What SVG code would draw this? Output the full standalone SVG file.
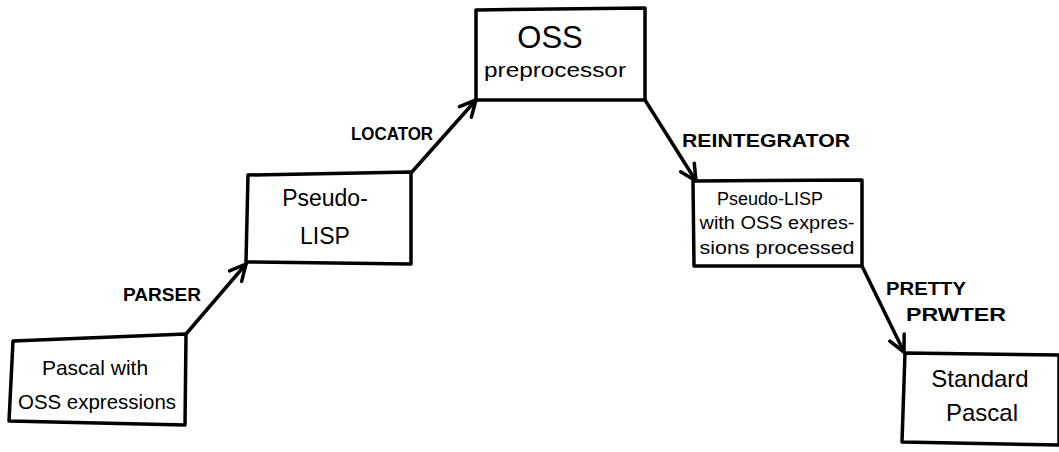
<svg xmlns="http://www.w3.org/2000/svg" width="1059" height="452" viewBox="0 0 1059 452">
<style>
.box{fill:#fff;stroke:#000;stroke-width:3.5;stroke-linejoin:round}
.t{font-family:"Liberation Sans",Arial,sans-serif;fill:#000;text-anchor:middle}
.lbl{font-family:"Liberation Sans",Arial,sans-serif;fill:#000;font-size:18px;font-weight:bold}
.conn{fill:none;stroke:#000;stroke-width:3.5;stroke-linecap:round}
</style>
<defs>
<marker id="ah" viewBox="0 0 20 20" refX="18" refY="10" markerWidth="20" markerHeight="20" markerUnits="userSpaceOnUse" orient="auto">
<path d="M2,2 L18,10 L2,18" fill="none" stroke="#000" stroke-width="3.5" stroke-linecap="round" stroke-linejoin="round"/>
</marker>
</defs>
<rect width="1059" height="452" fill="#fff"/>
<g id="connectors">
<line class="conn" x1="186" y1="334" x2="246" y2="264" marker-end="url(#ah)"/>
<line class="conn" x1="411" y1="173" x2="476" y2="100" marker-end="url(#ah)"/>
<line class="conn" x1="645" y1="100" x2="696" y2="181" marker-end="url(#ah)"/>
<line class="conn" x1="862" y1="266" x2="904" y2="352" marker-end="url(#ah)"/>
<text class="lbl" x="123" y="301" textLength="78" lengthAdjust="spacingAndGlyphs">PARSER</text>
<text class="lbl" x="351" y="140" textLength="82" lengthAdjust="spacingAndGlyphs">LOCATOR</text>
<text class="lbl" x="682" y="147" textLength="168" lengthAdjust="spacingAndGlyphs">REINTEGRATOR</text>
<text class="lbl" x="886" y="295" textLength="80" lengthAdjust="spacingAndGlyphs">PRETTY</text>
<text class="lbl" x="906" y="321" textLength="100" lengthAdjust="spacingAndGlyphs">PRWTER</text>
</g>
<g id="node-pascal-oss">
<polygon class="box" points="13,341 186,334 185,425 9,421"/>
<text class="t" x="95" y="375" font-size="21">Pascal with</text>
<text class="t" x="97" y="409" font-size="20" textLength="158" lengthAdjust="spacingAndGlyphs">OSS expressions</text>
</g>
<g id="node-pseudo-lisp">
<polygon class="box" points="248,175 411,172 411,264 246,262"/>
<text class="t" x="325" y="206" font-size="23">Pseudo-</text>
<text class="t" x="325" y="244" font-size="23">LISP</text>
</g>
<g id="node-oss-preprocessor">
<polygon class="box" points="476,10 645,8 645,100 476,100"/>
<text class="t" x="550" y="48" font-size="31">OSS</text>
<text class="t" x="555" y="77" font-size="20" textLength="142" lengthAdjust="spacingAndGlyphs">preprocessor</text>
</g>
<g id="node-pseudo-lisp-processed">
<polygon class="box" points="693,181 862,180 862,266 694,266"/>
<text class="t" x="770" y="205" font-size="18">Pseudo-LISP</text>
<text class="t" x="777" y="229" font-size="18" textLength="155" lengthAdjust="spacingAndGlyphs">with OSS expres-</text>
<text class="t" x="777" y="254" font-size="18" textLength="155" lengthAdjust="spacingAndGlyphs">sions processed</text>
</g>
<g id="node-standard-pascal">
<polygon class="box" points="905,353 1059,355 1059,445 902,442"/>
<text class="t" x="980" y="387" font-size="24">Standard</text>
<text class="t" x="982" y="421" font-size="24">Pascal</text>
</g>
</svg>
